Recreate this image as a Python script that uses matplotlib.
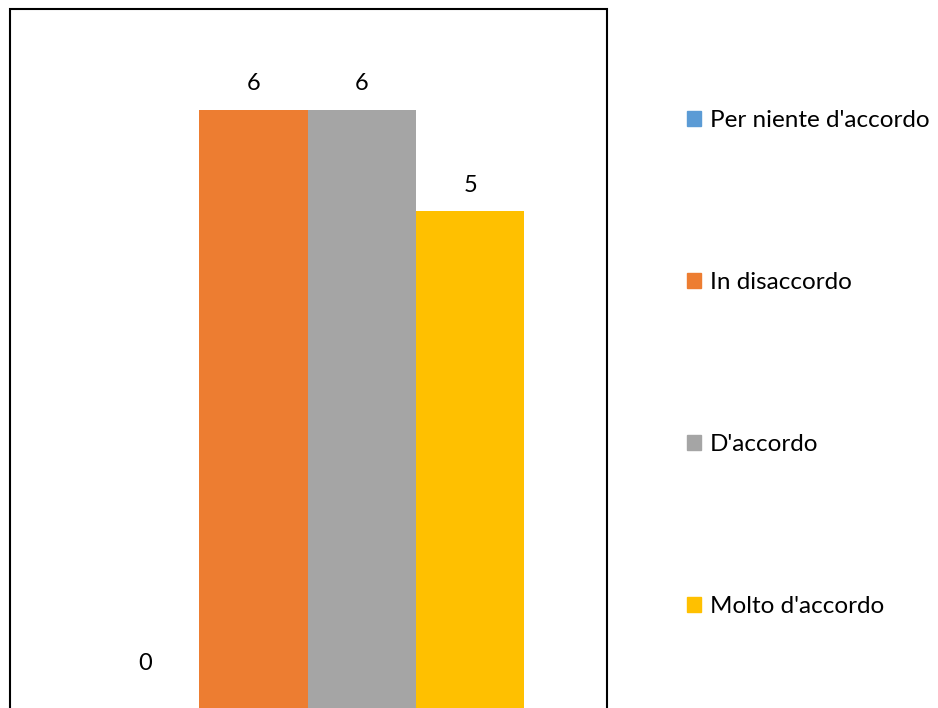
import matplotlib
matplotlib.use("Agg")
import matplotlib.pyplot as plt
from matplotlib.patches import Rectangle

categories = ["Per niente d'accordo", "In disaccordo", "D'accordo", "Molto d'accordo"]
values = [0, 6, 6, 5]
colors = ["#5B9BD5", "#ED7D31", "#A5A5A5", "#FFC000"]

plt.rcParams['font.family'] = ['Lato', 'DejaVu Sans']

W, H = 938, 708
fig = plt.figure(figsize=(W / 100, H / 100), dpi=100)
fig.patch.set_facecolor("white")

# chart area border (cropped at bottom)
fig.patches.append(Rectangle((10 / W, -0.05), (607 - 10) / W, 1.05 - 9 / H,
                             transform=fig.transFigure, fill=False,
                             edgecolor="black", linewidth=1.5))

# axes in pixel coordinates
ax_left, ax_right = 10, 607
ax_top, ax_bottom = 9, 716
ax = fig.add_axes([ax_left / W, (H - ax_bottom) / H,
                   (ax_right - ax_left) / W, (ax_bottom - ax_top) / H])
ax.set_facecolor("none")
for s in ax.spines.values():
    s.set_visible(False)
ax.set_xticks([])
ax.set_yticks([])

step = 108.4
c0 = 145
ax.set_xlim((ax_left - c0) / step, (ax_right - c0) / step)
ax.set_ylim(0, 7)

x = list(range(len(categories)))
bars = ax.bar(x, values, width=1.0, color=colors)
handles = []
for xi, v, c, cat in zip(x, values, colors, categories):
    off = 52 if v == 0 else 26
    ax.annotate(str(v), (xi, v), xytext=(0, off * 0.72), textcoords="offset points",
                ha="center", va="center", fontsize=17, color="#000000")
    handles.append(Rectangle((0, 0), 1, 1, color=c))

leg = fig.legend(handles, categories, loc="upper left",
                 bbox_to_anchor=(687 / W, 1 - 110 / H), frameon=False,
                 fontsize=17.5, handlelength=0.58, handleheight=0.58,
                 handletextpad=0.35, labelspacing=5.8, borderpad=0,
                 borderaxespad=0)

fig.savefig("out.png", dpi=100)
